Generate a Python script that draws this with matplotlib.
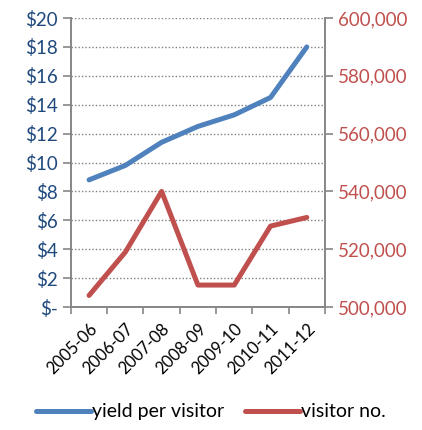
import matplotlib
matplotlib.use('Agg')
import matplotlib.pyplot as plt
from matplotlib.ticker import FuncFormatter, MultipleLocator

plt.rcParams['font.family'] = ['Lato', 'DejaVu Sans']

seasons = ['2005-06', '2006-07', '2007-08', '2008-09', '2009-10', '2010-11', '2011-12']
yield_per_visitor = [8.8, 9.8, 11.4, 12.5, 13.3, 14.5, 18.0]
visitors = [504000, 519000, 540000, 507600, 507600, 528000, 531000]

blue = '#4F81BD'
red = '#C0504D'
axis_grey = '#868686'

fig = plt.figure(figsize=(4.22, 4.30), dpi=100)
ax = fig.add_axes([0.168, 0.286, 0.602, 0.672])
ax2 = ax.twinx()

x = range(len(seasons))
l1, = ax.plot(x, yield_per_visitor, color=blue, lw=3.6, solid_capstyle='round',
              solid_joinstyle='round', label='yield per visitor', zorder=3)
l2, = ax2.plot(x, visitors, color=red, lw=3.6, solid_capstyle='round',
               solid_joinstyle='round', label='visitor no.', zorder=3)

ax.set_xlim(-0.5, len(seasons) - 0.5)
ax.set_ylim(0, 20)
ax2.set_ylim(500000, 600000)
ax.yaxis.set_major_locator(MultipleLocator(2))
ax2.yaxis.set_major_locator(MultipleLocator(20000))
ax.yaxis.set_major_formatter(FuncFormatter(lambda v, p: '$-' if v == 0 else f'${v:.0f}'))
ax2.yaxis.set_major_formatter(FuncFormatter(lambda v, p: f'{v:,.0f}'))

# category boundaries carry the tick marks, labels sit at the centres
ax.set_xticks([i - 0.5 for i in range(len(seasons) + 1)], minor=False)
ax.set_xticklabels([])
ax.set_xticks(list(x), minor=True)
ax.set_xticklabels(seasons, minor=True, rotation=45, ha='right', rotation_mode='anchor')
ax.tick_params(axis='x', which='minor', length=0, labelsize=12, pad=10)
ax.tick_params(axis='x', which='major', length=5, color=axis_grey, direction='out')

ax.grid(axis='y', color='#808080', linestyle=(0, (1, 1.5)), lw=1.0)
ax.set_axisbelow(True)

for a in (ax, ax2):
    a.spines['top'].set_visible(False)
    for s in ('left', 'right', 'bottom'):
        a.spines[s].set_color(axis_grey)
        a.spines[s].set_linewidth(1.2)
ax.tick_params(axis='y', colors=axis_grey, labelcolor='#1F497D', labelsize=13.5, length=6, width=1.2)
ax2.tick_params(axis='y', colors=axis_grey, labelcolor=red, labelsize=13.5, length=6, width=1.2)
ax.tick_params(axis='x', width=1.2)

fig.legend(handles=[l1, l2], loc='center', bbox_to_anchor=(0.5, 0.042), ncol=2,
           frameon=False, fontsize=14, handlelength=2.8, handletextpad=0.05,
           columnspacing=1.1)

fig.savefig('out.png', dpi=100)
